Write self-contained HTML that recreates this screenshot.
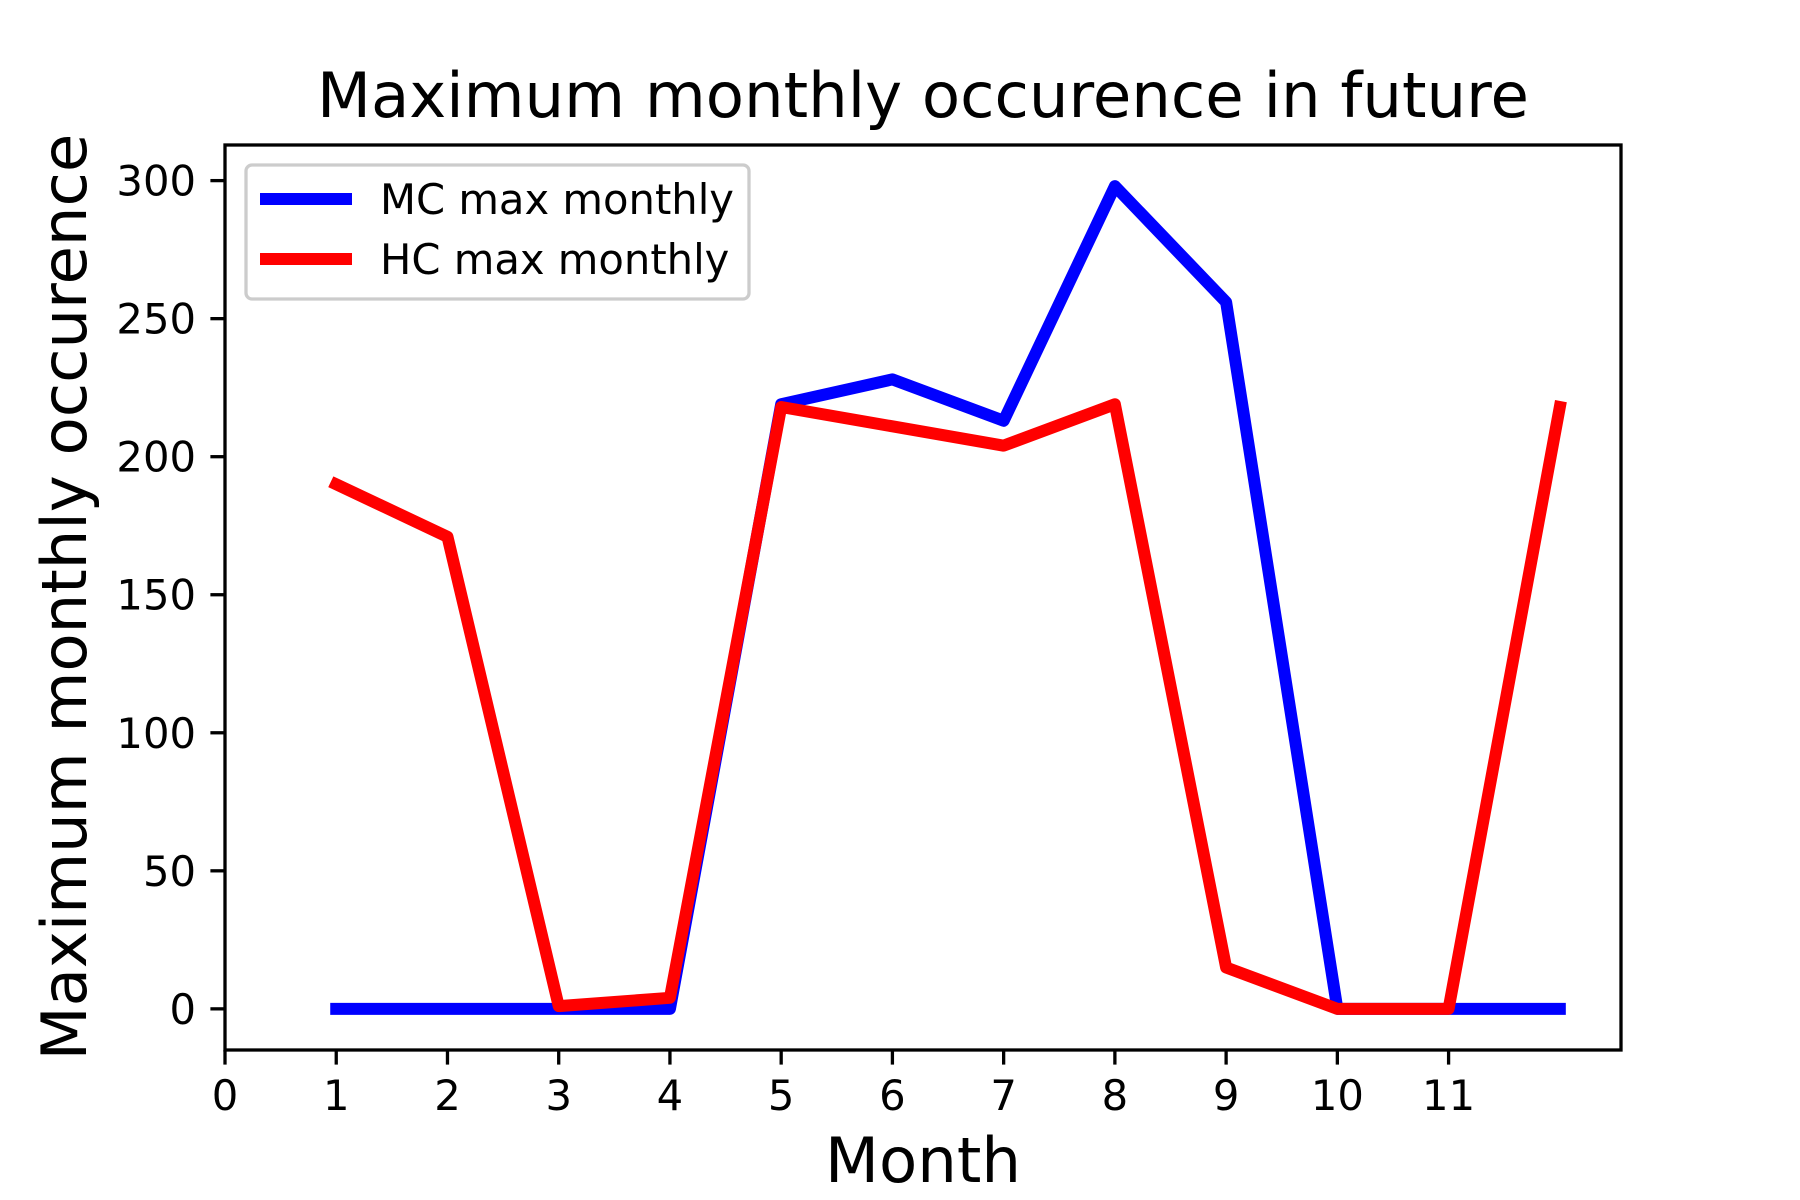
<!DOCTYPE html>
<html><head><meta charset="utf-8"><style>html,body{margin:0;padding:0;background:#fff}svg{display:block}text{font-family:"DejaVu Sans","Liberation Sans",sans-serif;fill:#000}</style></head>
<body>
<svg id="chart" width="1800" height="1200" viewBox="0 0 1800 1200">
<g id="plot"></g>
</svg>
<script>
const months=[1,2,3,4,5,6,7,8,9,10,11,12];
const mcValues=[0,0,0,0,219,228,213,298,256,0,0,0];
const hcValues=[190,171,1,4,218,211,204,219,15,0,0,218];
const xTicks=[0,1,2,3,4,5,6,7,8,9,10,11];
const yTicks=[0,50,100,150,200,250,300];
const seriesNames=["MC max monthly","HC max monthly"];

const L=225,R=1621,T=145,B=1050;
const xmin=0,xmax=12.55,ymin=-14.9,ymax=312.9;
const xs=v=>L+(v-xmin)/(xmax-xmin)*(R-L);
const ys=v=>B-(v-ymin)/(ymax-ymin)*(B-T);
const NS="http://www.w3.org/2000/svg";
const g=document.getElementById('plot');
function mk(tag,attrs,parent){const e=document.createElementNS(NS,tag);for(const k in attrs)e.setAttribute(k,attrs[k]);(parent||g).appendChild(e);return e;}

function drawLine(vals,color,name){
  const p=mk('polyline',{points:months.map((m,i)=>xs(m)+','+ys(vals[i])).join(' '),fill:'none',stroke:color,'stroke-width':12,'stroke-linejoin':'round','stroke-linecap':'square'});
  
  
}
drawLine(mcValues,'#0000ff','mc-series-line');
drawLine(hcValues,'#ff0000','hc-series-line');

const frame=mk('rect',{x:L,y:T,width:R-L,height:B-T,fill:'none',stroke:'#000','stroke-width':3.3});



xTicks.forEach(v=>{
  const x=xs(v);
  const t=mk('line',{x1:x,x2:x,y1:B,y2:B+14.6,stroke:'#000','stroke-width':3.3});
  
  
  const l=mk('text',{x:x,y:1110,'text-anchor':'middle','font-size':41.7});
  l.textContent=v;
  
  
});
yTicks.forEach(v=>{
  const y=ys(v);
  const t=mk('line',{x1:L-14.6,x2:L,y1:y,y2:y,stroke:'#000','stroke-width':3.3});
  
  
  const l=mk('text',{x:196,y:y+15,'text-anchor':'end','font-size':41.7});
  l.textContent=v;
  
  
});

const title=mk('text',{x:923,y:117,'text-anchor':'middle','font-size':62.5});
title.textContent='Maximum monthly occurence in future';


const xl=mk('text',{x:923,y:1182,'text-anchor':'middle','font-size':62.5});
xl.textContent='Month';


const yl=mk('text',{x:0,y:0,'text-anchor':'middle','font-size':62.5,transform:'translate(86,597) rotate(-90)'});
yl.textContent='Maximum monthly occurence';



const lg=mk('g',{});


mk('rect',{x:246,y:165,width:503,height:134,rx:6,fill:'#fff','fill-opacity':0.8,stroke:'#ccc','stroke-width':3.3},lg);
const colors=['#0000ff','#ff0000'];
seriesNames.forEach((n,i)=>{
  const y=199+i*60;
  const e=mk('g',{},lg);
  
  
  mk('line',{x1:260,x2:352,y1:y,y2:y,stroke:colors[i],'stroke-width':12},e);
  const t=mk('text',{x:380,y:y+15,'font-size':41.7},e);
  t.textContent=n;
});
</script>
</body></html>
